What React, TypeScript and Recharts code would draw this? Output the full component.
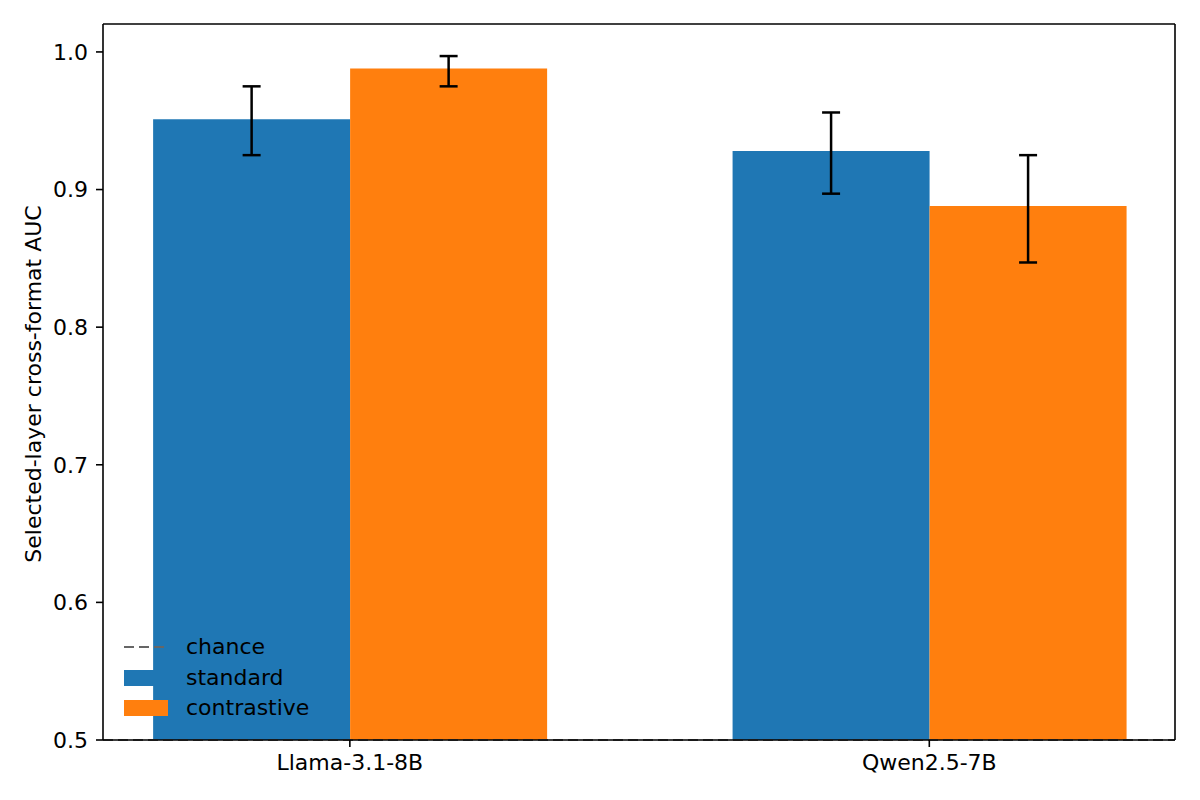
import React from 'react';
import { BarChart, Bar, XAxis, YAxis, ErrorBar, ReferenceLine } from 'recharts';

const categories = ['Llama-3.1-8B', 'Qwen2.5-7B'];
const standardValues = [0.951, 0.928];
const standardLow = [0.925, 0.897];
const standardHigh = [0.975, 0.956];
const contrastiveValues = [0.988, 0.888];
const contrastiveLow = [0.975, 0.847];
const contrastiveHigh = [0.997, 0.925];
const yTicks = [0.5, 0.6, 0.7, 0.8, 0.9, 1.0];
const chance = 0.5;
const X_DOMAIN: [number, number] = [-0.426, 1.424];
const Y_DOMAIN: [number, number] = [0.5, 1.0203];

const data = categories.map((name, i) => ({
  x: i,
  name,
  standard: standardValues[i],
  standardErr: [standardValues[i] - standardLow[i], standardHigh[i] - standardValues[i]],
  contrastive: contrastiveValues[i],
  contrastiveErr: [contrastiveValues[i] - contrastiveLow[i], contrastiveHigh[i] - contrastiveValues[i]],
}));

const FONT = 'DejaVu Sans, sans-serif';
const FS = 22;

const legendItems = [
  { label: 'chance', kind: 'line', color: '#666666' },
  { label: 'standard', kind: 'rect', color: '#1f77b4' },
  { label: 'contrastive', kind: 'rect', color: '#ff7f0e' },
];

const LegendBox = () => (
  <div
    style={{
      position: 'absolute',
      left: 124,
      top: 632,
      fontFamily: FONT,
      fontSize: FS,
      color: '#000',
      lineHeight: '30.5px',
    }}
  >
    {legendItems.map((it) => (
      <div key={it.label} style={{ display: 'flex', alignItems: 'center', height: 30.5 }}>
        <svg width={44} height={16} style={{ marginRight: 18 }}>
          {it.kind === 'line' ? (
            <line x1={0} y1={8} x2={44} y2={8} stroke={it.color} strokeWidth={2} strokeDasharray="10 5" />
          ) : (
            <rect x={0} y={0} width={44} height={16} fill={it.color} />
          )}
        </svg>
        <span>{it.label}</span>
      </div>
    ))}
  </div>
);

export default function App() {
  return (
    <div style={{ position: 'absolute', left: 0, top: 0, width: 1200, height: 800, background: '#fff' }}>
      <BarChart
        width={1200}
        height={800}
        data={data}
        margin={{ top: 24, right: 25, bottom: 0, left: 0 }}
        barGap={0}
        style={{ fontFamily: FONT }}
      >
        <XAxis
          dataKey="x"
          type="number"
          domain={X_DOMAIN}
          ticks={[0, 1]}
          tickFormatter={(v: number) => categories[v]}
          height={60}
          tickSize={7}
          tickMargin={7}
          tick={{ fill: '#000', fontSize: FS, fontFamily: FONT }}
          axisLine={{ stroke: '#000', strokeWidth: 1.6 }}
          tickLine={{ stroke: '#000', strokeWidth: 1.6 }}
          allowDataOverflow
        />
        <YAxis
          domain={Y_DOMAIN}
          ticks={yTicks}
          allowDataOverflow
          width={103}
          tickSize={7}
          tickMargin={8}
          tickFormatter={(v: number) => v.toFixed(1)}
          tick={{ fill: '#000', fontSize: FS, fontFamily: FONT }}
          axisLine={{ stroke: '#000', strokeWidth: 1.6 }}
          tickLine={{ stroke: '#000', strokeWidth: 1.6 }}
          label={{
            content: () => (
              <text
                x={33}
                y={384}
                transform="rotate(-90, 33, 384)"
                textAnchor="middle"
                dominantBaseline="central"
                fill="#000"
                fontSize={FS}
                fontFamily={FONT}
              >
                Selected-layer cross-format AUC
              </text>
            ),
          }}
        />
        <Bar dataKey="standard" fill="#1f77b4" barSize={197} isAnimationActive={false}>
          <ErrorBar dataKey="standardErr" direction="y" width={9} stroke="#000" strokeWidth={2.5} />
        </Bar>
        <Bar dataKey="contrastive" fill="#ff7f0e" barSize={197} isAnimationActive={false}>
          <ErrorBar dataKey="contrastiveErr" direction="y" width={9} stroke="#000" strokeWidth={2.5} />
        </Bar>
        <ReferenceLine y={chance} stroke="#666666" strokeWidth={2} strokeDasharray="10 5" />
        <ReferenceLine y={Y_DOMAIN[1]} stroke="#000" strokeWidth={1.6} ifOverflow="visible" />
        <ReferenceLine x={X_DOMAIN[1]} stroke="#000" strokeWidth={1.6} ifOverflow="visible" />
      </BarChart>
      <LegendBox />
    </div>
  );
}
